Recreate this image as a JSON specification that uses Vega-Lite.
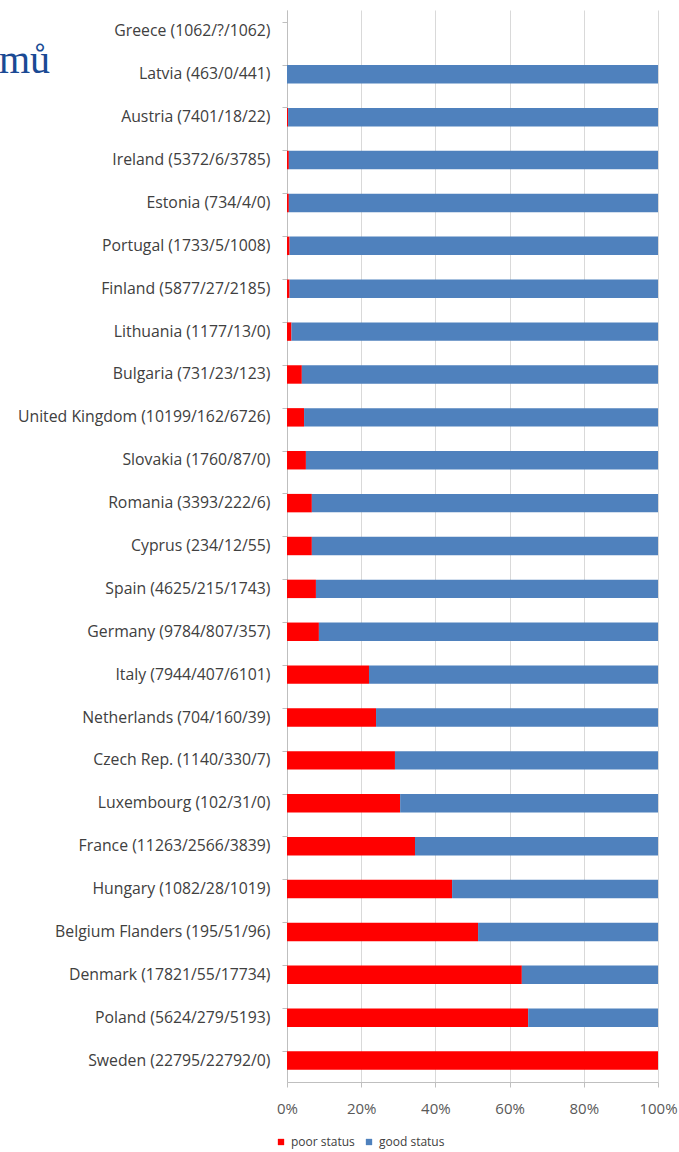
{
  "$schema": "https://vega.github.io/schema/vega-lite/v6.json",
  "autosize": {"type": "none"},
  "padding": {"left": 287, "top": 10, "right": 21, "bottom": 70},
  "width": 371,
  "height": 1072,
  "background": "white",
  "title": {
    "text": "mů",
    "anchor": "start",
    "frame": "group",
    "font": "Liberation Serif",
    "fontSize": 40,
    "fontWeight": "normal",
    "color": "#1A4A94",
    "dx": -288,
    "dy": 71,
    "offset": 0
  },
  "data": {
    "values": [
      {"country": "Latvia (463/0/441)", "status": "poor status", "share": 0.0},
      {"country": "Latvia (463/0/441)", "status": "good status", "share": 1.0},
      {"country": "Austria (7401/18/22)", "status": "poor status", "share": 0.003},
      {"country": "Austria (7401/18/22)", "status": "good status", "share": 0.997},
      {"country": "Ireland (5372/6/3785)", "status": "poor status", "share": 0.005},
      {"country": "Ireland (5372/6/3785)", "status": "good status", "share": 0.995},
      {"country": "Estonia (734/4/0)", "status": "poor status", "share": 0.005},
      {"country": "Estonia (734/4/0)", "status": "good status", "share": 0.995},
      {"country": "Portugal (1733/5/1008)", "status": "poor status", "share": 0.007},
      {"country": "Portugal (1733/5/1008)", "status": "good status", "share": 0.993},
      {"country": "Finland (5877/27/2185)", "status": "poor status", "share": 0.007},
      {"country": "Finland (5877/27/2185)", "status": "good status", "share": 0.993},
      {"country": "Lithuania (1177/13/0)", "status": "poor status", "share": 0.012},
      {"country": "Lithuania (1177/13/0)", "status": "good status", "share": 0.988},
      {"country": "Bulgaria (731/23/123)", "status": "poor status", "share": 0.04},
      {"country": "Bulgaria (731/23/123)", "status": "good status", "share": 0.96},
      {"country": "United Kingdom (10199/162/6726)", "status": "poor status", "share": 0.046},
      {"country": "United Kingdom (10199/162/6726)", "status": "good status", "share": 0.954},
      {"country": "Slovakia (1760/87/0)", "status": "poor status", "share": 0.051},
      {"country": "Slovakia (1760/87/0)", "status": "good status", "share": 0.949},
      {"country": "Romania (3393/222/6)", "status": "poor status", "share": 0.067},
      {"country": "Romania (3393/222/6)", "status": "good status", "share": 0.933},
      {"country": "Cyprus (234/12/55)", "status": "poor status", "share": 0.067},
      {"country": "Cyprus (234/12/55)", "status": "good status", "share": 0.933},
      {"country": "Spain (4625/215/1743)", "status": "poor status", "share": 0.078},
      {"country": "Spain (4625/215/1743)", "status": "good status", "share": 0.922},
      {"country": "Germany (9784/807/357)", "status": "poor status", "share": 0.086},
      {"country": "Germany (9784/807/357)", "status": "good status", "share": 0.914},
      {"country": "Italy (7944/407/6101)", "status": "poor status", "share": 0.221},
      {"country": "Italy (7944/407/6101)", "status": "good status", "share": 0.779},
      {"country": "Netherlands (704/160/39)", "status": "poor status", "share": 0.24},
      {"country": "Netherlands (704/160/39)", "status": "good status", "share": 0.76},
      {"country": "Czech Rep. (1140/330/7)", "status": "poor status", "share": 0.291},
      {"country": "Czech Rep. (1140/330/7)", "status": "good status", "share": 0.709},
      {"country": "Luxembourg (102/31/0)", "status": "poor status", "share": 0.305},
      {"country": "Luxembourg (102/31/0)", "status": "good status", "share": 0.695},
      {"country": "France (11263/2566/3839)", "status": "poor status", "share": 0.345},
      {"country": "France (11263/2566/3839)", "status": "good status", "share": 0.655},
      {"country": "Hungary (1082/28/1019)", "status": "poor status", "share": 0.445},
      {"country": "Hungary (1082/28/1019)", "status": "good status", "share": 0.555},
      {"country": "Belgium Flanders (195/51/96)", "status": "poor status", "share": 0.515},
      {"country": "Belgium Flanders (195/51/96)", "status": "good status", "share": 0.485},
      {"country": "Denmark (17821/55/17734)", "status": "poor status", "share": 0.633},
      {"country": "Denmark (17821/55/17734)", "status": "good status", "share": 0.367},
      {"country": "Poland (5624/279/5193)", "status": "poor status", "share": 0.65},
      {"country": "Poland (5624/279/5193)", "status": "good status", "share": 0.35},
      {"country": "Sweden (22795/22792/0)", "status": "poor status", "share": 1.0},
      {"country": "Sweden (22795/22792/0)", "status": "good status", "share": 0.0}
    ]
  },
  "mark": {"type": "bar"},
  "encoding": {
    "y": {
      "field": "country",
      "type": "nominal",
      "title": null,
      "scale": {
        "domain": [
          "Greece (1062/?/1062)",
          "Latvia (463/0/441)",
          "Austria (7401/18/22)",
          "Ireland (5372/6/3785)",
          "Estonia (734/4/0)",
          "Portugal (1733/5/1008)",
          "Finland (5877/27/2185)",
          "Lithuania (1177/13/0)",
          "Bulgaria (731/23/123)",
          "United Kingdom (10199/162/6726)",
          "Slovakia (1760/87/0)",
          "Romania (3393/222/6)",
          "Cyprus (234/12/55)",
          "Spain (4625/215/1743)",
          "Germany (9784/807/357)",
          "Italy (7944/407/6101)",
          "Netherlands (704/160/39)",
          "Czech Rep. (1140/330/7)",
          "Luxembourg (102/31/0)",
          "France (11263/2566/3839)",
          "Hungary (1082/28/1019)",
          "Belgium Flanders (195/51/96)",
          "Denmark (17821/55/17734)",
          "Poland (5624/279/5193)",
          "Sweden (22795/22792/0)"
        ],
        "paddingInner": 0.57,
        "paddingOuter": 0.285
      },
      "axis": {
        "bandPosition": 0,
        "domainColor": "#BFBFBF",
        "tickColor": "#BFBFBF",
        "tickSize": 5,
        "labelFont": "Open Sans",
        "labelFontSize": 15.8,
        "labelColor": "#404040",
        "labelPadding": 12,
        "labelLimit": 0,
        "grid": false
      }
    },
    "x": {
      "field": "share",
      "type": "quantitative",
      "stack": "zero",
      "title": null,
      "scale": {"domain": [0, 1], "nice": false},
      "axis": {
        "format": "%",
        "values": [0, 0.2, 0.4, 0.6, 0.8, 1],
        "labelFlush": false,
        "domainColor": "#BFBFBF",
        "tickColor": "#BFBFBF",
        "tickSize": 5,
        "gridColor": "#D9D9D9",
        "labelFont": "Open Sans",
        "labelFontSize": 15,
        "labelColor": "#595959",
        "labelPadding": 14
      }
    },
    "color": {
      "field": "status",
      "type": "nominal",
      "title": null,
      "scale": {"domain": ["poor status", "good status"], "range": ["#FF0000", "#4F81BD"]},
      "legend": {
        "orient": "none",
        "direction": "horizontal",
        "legendX": -12,
        "legendY": 1126,
        "symbolType": "square",
        "symbolSize": 40,
        "symbolStrokeWidth": 0,
        "labelFont": "Open Sans",
        "labelFontSize": 12,
        "labelColor": "#404040",
        "labelOffset": 4,
        "columnPadding": 8
      }
    },
    "order": {"field": "status", "sort": "descending"}
  },
  "config": {
    "view": {"stroke": null},
    "bar": {"stroke": "white", "strokeWidth": 0}
  }
}
